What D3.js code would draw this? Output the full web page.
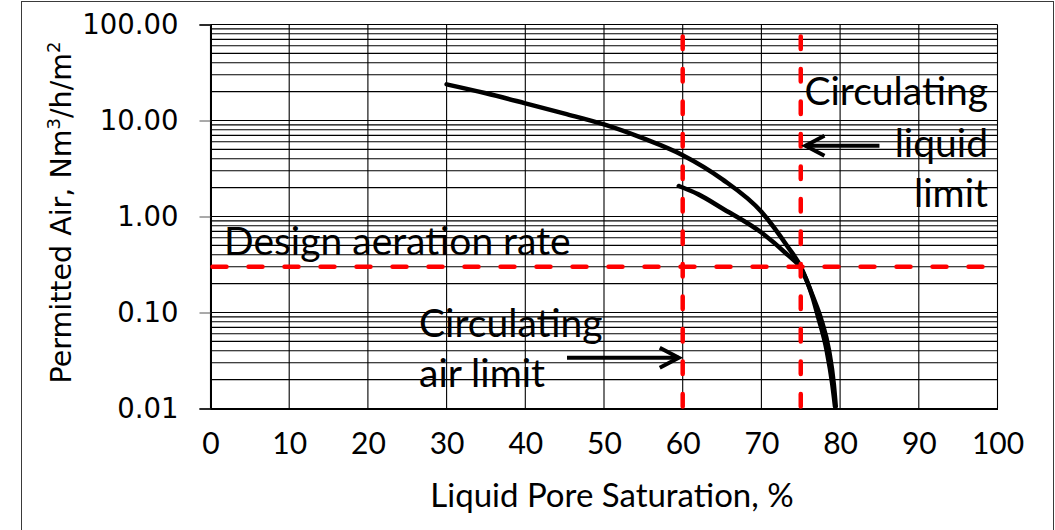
<!DOCTYPE html>
<html>
<head>
<meta charset="utf-8">
<script src="https://cdn.jsdelivr.net/npm/d3@7"></script>
<style>
  body { margin: 0; background: #fff; }
  svg { display: block; }
</style>
</head>
<body>
<div id="chart"></div>
<script>
// Permitted air vs liquid pore saturation (log y axis)

// DATA
const xTicks = [0, 10, 20, 30, 40, 50, 60, 70, 80, 90, 100];
const yTicks = [0.01, 0.1, 1, 10, 100];
const yTickLabels = ["0.01", "0.10", "1.00", "10.00", "100.00"];

// upper curve
const upperSat = [30, 35, 40, 45, 50, 55, 60, 65, 70, 73.3, 75, 76.5, 77.6, 78.6, 79.2, 79.45];
const upperAir = [23.8, 19.2, 15.1, 11.8, 9.1, 6.5, 4.35, 2.45, 1.12, 0.49, 0.30, 0.15, 0.085, 0.040, 0.018, 0.0105];
// lower curve
const lowerSat = [59.5, 62, 65, 70, 73.3, 75, 76.5, 77.2, 78.3, 79.0, 79.35];
const lowerAir = [2.08, 1.7, 1.22, 0.68, 0.40, 0.29, 0.145, 0.09, 0.040, 0.018, 0.0105];

// reference lines
const designRate = 0.3;
const limitLines = [60, 75];

// annotation arrows [fromX, fromY, toX, toY] in data units
const liquidArrow = [85, 5.47, 75.6, 5.47];
const airArrow = [45.3, 0.0338, 59.5, 0.0338];

// CHART SETUP
const width = 1055;
const height = 530;
const margin = { top: 24.5, right: 58, bottom: 121.5, left: 210.5 };

const svg = d3.select("#chart")
    .append("svg")
    .attr("width", width)
    .attr("height", height);

// outer frame
svg.append("rect")
    .attr("x", 21.5)
    .attr("y", 1.5)
    .attr("width", 1032)
    .attr("height", 560)
    .attr("fill", "none")
    .attr("stroke", "#3a3a3a")
    .attr("stroke-width", 1);

const xScale = d3.scaleLinear()
    .domain([0, 100])
    .range([margin.left, width - margin.right + 0.5]);
const yScale = d3.scaleLog()
    .domain([0.01, 100])
    .range([height - margin.bottom, margin.top]);

const x0 = xScale(0), x1 = xScale(100);
const yBot = yScale(0.01), yTop = yScale(100);

// GRID
// minor + major horizontal lines
const hLines = [];
for (let d = -2; d < 2; d++) {
    for (let m = 1; m < 10; m++) hLines.push(m * Math.pow(10, d));
}
hLines.push(100);
svg.append("g")
    .selectAll("line")
    .data(hLines)
    .enter()
    .append("line")
    .attr("x1", x0)
    .attr("x2", x1)
    .attr("y1", d => yScale(d))
    .attr("y2", d => yScale(d))
    .attr("stroke", "#000")
    .attr("stroke-width", 1.1);

svg.append("g")
    .selectAll("line")
    .data(xTicks)
    .enter()
    .append("line")
    .attr("x1", d => xScale(d))
    .attr("x2", d => xScale(d))
    .attr("y1", yTop)
    .attr("y2", yBot)
    .attr("stroke", "#000")
    .attr("stroke-width", 1.1);

// AXES
const yAxis = d3.axisLeft(yScale)
    .tickValues(yTicks)
    .tickFormat((d, i) => yTickLabels[i])
    .tickSize(11)
    .tickPadding(21);
const yAxisG = svg.append("g")
    .attr("transform", "translate(" + x0 + ",0)")
    .call(yAxis);
yAxisG.select(".domain").attr("stroke", "#000").attr("stroke-width", 2);
yAxisG.selectAll(".tick line").attr("stroke", "#555").attr("stroke-width", 1);
yAxisG.selectAll(".tick text")
    .attr("font-family", "DejaVu Sans")
    .attr("font-size", 27.5)
    .attr("fill", "#000");

const xAxis = d3.axisBottom(xScale)
    .tickValues(xTicks)
    .tickSize(0)
    .tickPadding(24);
const xAxisG = svg.append("g")
    .attr("transform", "translate(0," + yBot + ")")
    .call(xAxis);
xAxisG.select(".domain").attr("stroke", "#000").attr("stroke-width", 2);
xAxisG.selectAll(".tick text")
    .attr("font-family", "Lato")
    .attr("font-size", 30)
    .attr("fill", "#000");

// axis titles
svg.append("text")
    .attr("x", 612)
    .attr("y", 507)
    .attr("text-anchor", "middle")
    .attr("font-family", "Lato")
    .attr("font-size", 33)
    .text("Liquid Pore Saturation, %");

const yTitle = svg.append("text")
    .attr("transform", "translate(71," + ((yTop + yBot) / 2 - 4) + ")rotate(-90)")
    .attr("text-anchor", "middle")
    .attr("font-family", "DejaVu Sans")
    .attr("font-size", 28.5);
yTitle.append("tspan").text("Permitted Air, Nm");
yTitle.append("tspan").attr("font-size", 18).attr("dy", -11).text("3");
yTitle.append("tspan").attr("dy", 11).text("/h/m");
yTitle.append("tspan").attr("font-size", 18).attr("dy", -11).text("2");

// CURVES
const line = d3.line()
    .x(d => xScale(d[0]))
    .y(d => yScale(d[1]))
    .curve(d3.curveMonotoneX);

const curves = [
    d3.zip(upperSat, upperAir),
    d3.zip(lowerSat, lowerAir)
];
svg.append("g")
    .selectAll("path")
    .data(curves)
    .enter()
    .append("path")
    .attr("d", line)
    .attr("fill", "none")
    .attr("stroke", "#000")
    .attr("stroke-width", 4.5)
    .attr("stroke-linecap", "round");

// RED DASHED LIMITS
svg.append("g")
    .selectAll("line")
    .data(limitLines)
    .enter()
    .append("line")
    .attr("x1", d => xScale(d))
    .attr("x2", d => xScale(d))
    .attr("y1", yBot)
    .attr("y2", yTop)
    .attr("stroke", "#ff0000")
    .attr("stroke-width", 4.5)
    .attr("stroke-linecap", "round")
    .attr("stroke-dasharray", "12.5,20")
    .attr("stroke-dashoffset", -2);

svg.append("line")
    .attr("x1", x0)
    .attr("x2", x1)
    .attr("y1", yScale(designRate))
    .attr("y2", yScale(designRate))
    .attr("stroke", "#ff0000")
    .attr("stroke-width", 4.5)
    .attr("stroke-linecap", "round")
    .attr("stroke-dasharray", "14,22")
    .attr("stroke-dashoffset", -2);

// ARROWS
function drawArrow(a) {
    const fx = xScale(a[0]), fy = yScale(a[1]);
    const tx = xScale(a[2]), ty = yScale(a[3]);
    const dir = Math.sign(tx - fx);
    const g = svg.append("g")
        .attr("fill", "none")
        .attr("stroke", "#000")
        .attr("stroke-width", 4)
        .attr("stroke-linecap", "butt");
    g.append("line")
        .attr("x1", fx).attr("y1", fy)
        .attr("x2", tx).attr("y2", ty);
    g.append("path")
        .attr("d", "M" + (tx - dir * 19) + "," + (fy - 10) +
            "L" + tx + "," + ty +
            "L" + (tx - dir * 19) + "," + (fy + 10));
}
drawArrow(liquidArrow);
drawArrow(airArrow);

// ANNOTATION TEXT
const annFont = 39;
function annText(x, y, anchor, str) {
    svg.append("text")
        .attr("x", x)
        .attr("y", y)
        .attr("text-anchor", anchor)
        .attr("font-family", "Lato")
        .attr("font-size", annFont)
        .attr("fill", "#000")
        .text(str);
}
annText(224, 255, "start", "Design aeration rate");
annText(988, 105, "end", "Circulating");
annText(988, 157, "end", "liquid");
annText(988, 207, "end", "limit");
annText(419, 337, "start", "Circulating");
annText(419, 387, "start", "air limit");
</script>
</body>
</html>
